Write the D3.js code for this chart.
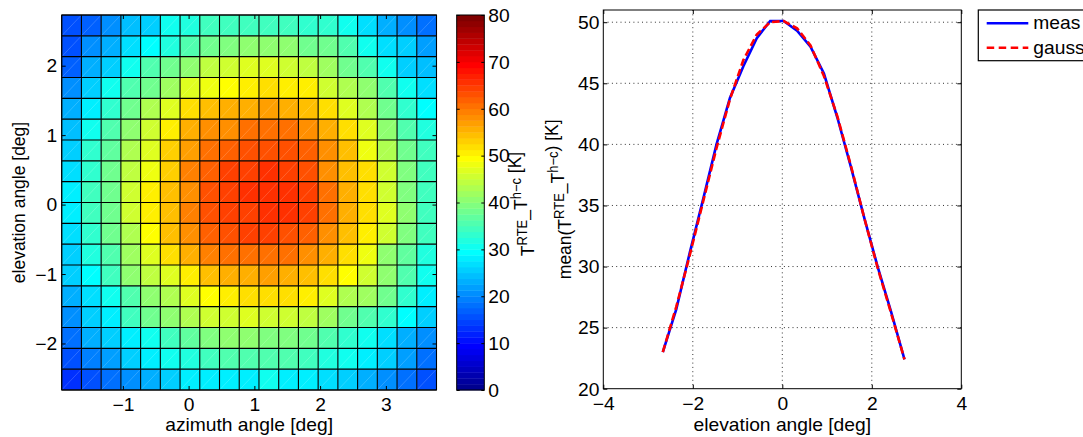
<!DOCTYPE html>
<html><head><meta charset="utf-8">
<script src="https://cdn.jsdelivr.net/npm/d3@7"></script>
<style>
body{margin:0;background:#fff;}
svg{display:block;font-family:"Liberation Sans",Arial,Helvetica,sans-serif;}
</style></head><body>
<svg id="chart" width="1083" height="437"></svg>
<script>
// ---------- data ----------
const azimuthEdges = [-1.93,-1.63,-1.33,-1.03,-0.73,-0.43,-0.13,0.17,0.47,0.77,1.07,1.37,1.67,1.97,2.27,2.57,2.87,3.17,3.47,3.77];
const elevationEdges = [2.73,2.43,2.13,1.83,1.53,1.23,0.93,0.63,0.33,0.03,-0.27,-0.57,-0.87,-1.17,-1.47,-1.77,-2.07,-2.37,-2.67];
// rows from top (highest elevation) to bottom
const cellValues = [
 [15,17,21,24,26,30,32,34,34,34.5,34,34,33,32.5,30,27,23.5,20,18],
 [16,21,23,27,29,32,36,38,39,40,40,40,38.5,38,35,31,27,25,22],
 [17,22.5,26,31,35,38.5,41,44,45.5,46.5,46.5,45.5,44,42,38.5,35,30,26,24],
 [20,26,30,35,38.5,42,46.5,48.5,49.5,51,51.5,51,50,45.5,42.5,40,35,31,26.5],
 [23.5,28,32.5,38,42.5,47,51.5,54.5,55,56,56.5,56,54,52,47,43,38,33,29],
 [24.5,31,35.5,41,45.5,50.5,55,57.5,58.5,60,60,60,58.5,56,51.5,47,41,36,32],
 [25.5,32.5,37,42.5,47,52.5,57,60.5,62,62.5,62.5,63,61.5,57.5,54,48.5,42.5,38,34],
 [27,32.5,38,44,48.5,53.5,59,62,64,64,65,64,63,58.5,54.5,51.5,45,39.5,34.5],
 [27.5,34.5,38.5,45.5,50.5,54.5,58.5,63,64,65,65,65.5,64,60,56,52,45.5,39.5,34.5],
 [27.5,34,38,45,50.5,54,59,63,64,64.5,65,65,64,60,56,52,46.5,40,34.5],
 [27,32.5,38,43,49,54,57.5,61.5,63,64,64,63,61.5,57.5,54,50,45.5,39.5,34.5],
 [25.5,32,36,42,46.5,52,56,59,60,60,60,60,58,56,52,47.5,41,37,32],
 [25,29.5,34.5,40,44,47,51,54,55.5,56,56.5,56,54.5,52,49,45.5,40,35.5,31],
 [22.5,27,31,36,40,42.5,46.5,49,50.5,52,52,52,50.5,47,43,42,38,32.5,28],
 [21,25,28.5,34,38,40,42.5,45,45.5,46.5,45.5,45.5,44,42,38.5,36,32.5,29.5,26],
 [18.5,22.5,25,28,31,34.5,37,39.5,40,40,39.5,39.5,38.5,36,32.5,30,26.5,22.5,20],
 [15.5,19.5,22,25.5,27.5,30,32,34.5,35.5,35.5,35.5,35,34,32,30,27.5,25,22,18.5],
 [12.5,16,18.5,21,23.5,25,27.5,28.5,28,27.5,30,27.5,27.5,26.5,25,23.5,20,18,16]
];
const heatXTicks = [-1,0,1,2,3];
const heatYTicks = [-2,-1,0,1,2];
const colorbarTicks = [0,10,20,30,40,50,60,70,80];
const colorRange = [0,80];

const elevation = [-2.67,-2.37,-2.07,-1.77,-1.47,-1.17,-0.87,-0.57,-0.27,0.03,0.33,0.63,0.93,1.23,1.53,1.83,2.13,2.43,2.73];
const measValues = [23.0,26.5,31.1,35.5,40.0,43.8,46.4,48.7,50.1,50.1,49.3,48.0,45.8,42.2,38.2,34.0,30.0,26.3,22.4];
const gaussValues = [23.0,26.7,30.9,35.3,39.7,43.7,46.9,49.0,50.0,50.1,49.5,48.1,45.6,42.3,38.3,34.0,29.9,26.2,22.4];
const lineXTicks = [-4,-2,0,2,4];
const lineYTicks = [20,25,30,35,40,45,50];
const legendLabels = ["meas","gauss"];

// ---------- setup ----------
const FS = 17.5, SX = 1.1, SUP = 13, SUPSHIFT = 6;
const svg = d3.select("#chart");
const minus = s => String(s).replace("-", "\u2212");

function jetColor(v){
  let i = Math.floor((v - colorRange[0])/(colorRange[1]-colorRange[0])*64);
  i = Math.max(0, Math.min(63, i));
  const t = (i+1)/64;
  const f = c => Math.max(0, Math.min(1, 1.5 - Math.abs(4*t - c)));
  return d3.rgb(Math.round(255*f(3)), Math.round(255*f(2)), Math.round(255*f(1))).toString();
}

function styleAxis(g, hideText){
  g.select(".domain").remove();
  g.selectAll(".tick line").attr("stroke","#000").attr("stroke-width",1);
  g.selectAll(".tick text").attr("fill","#000").attr("font-size",FS)
    .attr("font-family",'"Liberation Sans",Arial,sans-serif')
    .attr("transform",`scale(${SX},1)`);
  if (hideText) g.selectAll(".tick text").remove();
}

// ---------- heatmap ----------
const xH = d3.scaleLinear().domain([azimuthEdges[0], azimuthEdges[azimuthEdges.length-1]]).range([61.7,436.5]);
const yH = d3.scaleLinear().domain([elevationEdges[elevationEdges.length-1], elevationEdges[0]]).range([390,15]);

const cells = [];
cellValues.forEach((row,r)=>row.forEach((v,c)=>cells.push({r,c,v})));
const heat = svg.append("g");
heat.selectAll("rect.cell").data(cells).join("rect")
  .attr("class","cell")
  .attr("x", d=>xH(azimuthEdges[d.c]))
  .attr("y", d=>yH(elevationEdges[d.r]))
  .attr("width", d=>xH(azimuthEdges[d.c+1])-xH(azimuthEdges[d.c]))
  .attr("height", d=>yH(elevationEdges[d.r+1])-yH(elevationEdges[d.r]))
  .attr("fill", d=>jetColor(d.v));
heat.selectAll("line.diag").data(cells).join("line")
  .attr("class","diag")
  .attr("x1", d=>xH(azimuthEdges[d.c])).attr("y1", d=>yH(elevationEdges[d.r+1]))
  .attr("x2", d=>xH(azimuthEdges[d.c+1])).attr("y2", d=>yH(elevationEdges[d.r]))
  .attr("stroke","#fff").attr("stroke-opacity",0.3).attr("stroke-width",0.6);
heat.selectAll("line.vedge").data(azimuthEdges).join("line")
  .attr("x1",d=>xH(d)).attr("x2",d=>xH(d)).attr("y1",yH.range()[1]).attr("y2",yH.range()[0])
  .attr("stroke","#000").attr("stroke-width",1.1);
heat.selectAll("line.hedge").data(elevationEdges).join("line")
  .attr("y1",d=>yH(d)).attr("y2",d=>yH(d)).attr("x1",xH.range()[0]).attr("x2",xH.range()[1])
  .attr("stroke","#000").attr("stroke-width",1.1);

svg.append("g").attr("transform","translate(0,390)")
  .call(d3.axisBottom(xH).tickValues(heatXTicks).tickSizeInner(-4).tickSizeOuter(0).tickPadding(9).tickFormat(minus))
  .call(g=>styleAxis(g,false));
svg.append("g").attr("transform","translate(0,15)")
  .call(d3.axisTop(xH).tickValues(heatXTicks).tickSizeInner(-4).tickSizeOuter(0))
  .call(g=>styleAxis(g,true));
svg.append("g").attr("transform","translate(61.7,0)")
  .call(d3.axisLeft(yH).tickValues(heatYTicks).tickSizeInner(-4).tickSizeOuter(0).tickPadding(4.2).tickFormat(minus))
  .call(g=>styleAxis(g,false))
  .call(g=>g.selectAll(".tick text").attr("dy","0.36em"));
svg.append("g").attr("transform","translate(436.5,0)")
  .call(d3.axisRight(yH).tickValues(heatYTicks).tickSizeInner(-4).tickSizeOuter(0))
  .call(g=>styleAxis(g,true));
svg.append("rect").attr("x",61.7).attr("y",15).attr("width",436.5-61.7).attr("height",375)
  .attr("fill","none").attr("stroke","#000").attr("stroke-width",1);

// ---------- colorbar ----------
const cbY = d3.scaleLinear().domain(colorRange).range([390,15]);
const cbX0 = 456.7, cbX1 = 484.3;
const bins = d3.range(64).map(i=>({lo: colorRange[0]+i*(colorRange[1]-colorRange[0])/64, hi: colorRange[0]+(i+1)*(colorRange[1]-colorRange[0])/64}));
svg.append("g").selectAll("rect").data(bins).join("rect")
  .attr("x",cbX0).attr("width",cbX1-cbX0)
  .attr("y",d=>cbY(d.hi)).attr("height",d=>cbY(d.lo)-cbY(d.hi)+0.4)
  .attr("fill",d=>jetColor((d.lo+d.hi)/2));
svg.append("g").attr("transform",`translate(${cbX1},0)`)
  .call(d3.axisRight(cbY).tickValues(colorbarTicks).tickSizeInner(-3).tickSizeOuter(0).tickPadding(3.6))
  .call(g=>styleAxis(g,false))
  .call(g=>g.selectAll(".tick text").attr("dy","0.36em"));
svg.append("g").attr("transform",`translate(${cbX0},0)`)
  .call(d3.axisLeft(cbY).tickValues(colorbarTicks).tickSizeInner(-3).tickSizeOuter(0))
  .call(g=>styleAxis(g,true));
svg.append("rect").attr("x",cbX0).attr("y",15).attr("width",cbX1-cbX0).attr("height",375)
  .attr("fill","none").attr("stroke","#000").attr("stroke-width",1);

// ---------- label helper ----------
function richLabel(parent, parts, transform){
  const t = parent.append("text").attr("transform",transform).attr("text-anchor","middle")
    .attr("font-size",FS).attr("fill","#000");
  parts.forEach(p=>{
    if (p.sup){
      t.append("tspan").attr("font-size",SUP).attr("dy",-SUPSHIFT).text(p.sup);
      t.append("tspan").attr("dy",SUPSHIFT).text("");
    } else {
      t.append("tspan").text(p.t);
    }
  });
  return t;
}
richLabel(svg,[{t:"azimuth angle [deg]"}],`translate(249.1,430.5) scale(${SX},1)`);
richLabel(svg,[{t:"elevation angle [deg]"}],`translate(25,202.5) rotate(-90) scale(1,${SX})`);
richLabel(svg,[{t:"T"},{sup:"RTE"},{t:"_T"},{sup:"h\u2212c"},{t:" [K]"}],`translate(534,204) rotate(-90) scale(1,${SX})`);

// ---------- line plot ----------
const xL = d3.scaleLinear().domain([lineXTicks[0], lineXTicks[lineXTicks.length-1]]).range([603.3,961.3]);
const yL = d3.scaleLinear().domain([20,51]).range([388.7,10]);
const grid = svg.append("g").attr("stroke","#333").attr("stroke-width",1).attr("stroke-dasharray","1,3.3");
grid.selectAll("line.gx").data(lineXTicks.slice(1,-1)).join("line")
  .attr("x1",d=>xL(d)).attr("x2",d=>xL(d)).attr("y1",yL.range()[1]).attr("y2",yL.range()[0]);
grid.selectAll("line.gy").data(lineYTicks.slice(1)).join("line")
  .attr("y1",d=>yL(d)).attr("y2",d=>yL(d)).attr("x1",xL.range()[0]).attr("x2",xL.range()[1]);

svg.append("g").attr("transform","translate(0,388.7)")
  .call(d3.axisBottom(xL).tickValues(lineXTicks).tickSizeInner(-4).tickSizeOuter(0).tickPadding(9).tickFormat(minus))
  .call(g=>styleAxis(g,false));
svg.append("g").attr("transform","translate(0,10)")
  .call(d3.axisTop(xL).tickValues(lineXTicks).tickSizeInner(-4).tickSizeOuter(0))
  .call(g=>styleAxis(g,true));
svg.append("g").attr("transform","translate(603.3,0)")
  .call(d3.axisLeft(yL).tickValues(lineYTicks).tickSizeInner(-4).tickSizeOuter(0).tickPadding(3.6))
  .call(g=>styleAxis(g,false))
  .call(g=>g.selectAll(".tick text").attr("dy","0.36em"));
svg.append("g").attr("transform","translate(961.3,0)")
  .call(d3.axisRight(yL).tickValues(lineYTicks).tickSizeInner(-4).tickSizeOuter(0))
  .call(g=>styleAxis(g,true));

const line = d3.line().x(d=>xL(d[0])).y(d=>yL(d[1]));
svg.append("path").datum(elevation.map((e,i)=>[e,measValues[i]]))
  .attr("d",line).attr("fill","none").attr("stroke","#0000ff").attr("stroke-width",2.6);
svg.append("path").datum(elevation.map((e,i)=>[e,gaussValues[i]]))
  .attr("d",line).attr("fill","none").attr("stroke","#ff0000").attr("stroke-width",2.6)
  .attr("stroke-dasharray","7.5,3.5");

svg.append("rect").attr("x",603.3).attr("y",10).attr("width",961.3-603.3).attr("height",388.7-10)
  .attr("fill","none").attr("stroke","#000").attr("stroke-width",1);

richLabel(svg,[{t:"elevation angle [deg]"}],`translate(782.3,430.5) scale(${SX},1)`);
richLabel(svg,[{t:"mean(T"},{sup:"RTE"},{t:"_T"},{sup:"h\u2212c"},{t:") [K]"}],`translate(571,199.3) rotate(-90) scale(1,${SX})`);

// ---------- legend ----------
const leg = svg.append("g");
leg.append("rect").attr("x",978.3).attr("y",10).attr("width",200).attr("height",50.7)
  .attr("fill","#fff").attr("stroke","#000").attr("stroke-width",1.2);
const legStyles = [{c:"#0000ff",dash:null},{c:"#ff0000",dash:"7.5,4.5"}];
const legY = [23.3,47.7];
legendLabels.forEach((lab,i)=>{
  const l = leg.append("line").attr("x1",986.7).attr("x2",1028.3).attr("y1",legY[i]).attr("y2",legY[i])
    .attr("stroke",legStyles[i].c).attr("stroke-width",2.6);
  if (legStyles[i].dash) l.attr("stroke-dasharray",legStyles[i].dash);
  leg.append("text").attr("transform",`translate(1033.3,${legY[i]+6}) scale(${SX},1)`)
    .attr("font-size",FS).attr("fill","#000").text(lab);
});
</script>
</body></html>
